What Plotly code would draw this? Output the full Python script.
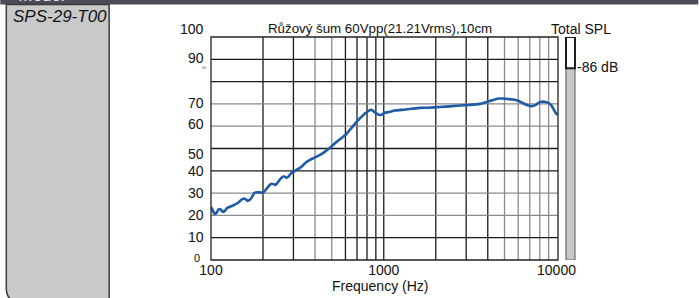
import plotly.graph_objects as go

# ---------------- data ----------------
freq_hz = [100, 102, 105, 108, 111, 114, 117, 120, 124, 128, 133, 138, 144, 150, 154, 159, 163, 168,
           173, 178, 185, 193, 200, 206, 212, 218, 224, 230, 236, 242, 250, 258, 266, 274, 282, 290,
           300, 312, 326, 340, 355, 372, 390, 410, 430, 455, 480, 505, 530, 555, 580, 610, 635, 660,
           690, 720, 750, 785, 820, 850, 880, 910, 945, 975, 1010, 1060, 1160, 1300, 1450, 1611, 1800,
           2100, 2500, 2800, 3100, 3600, 4000, 4300, 4600, 4900, 5200, 5600, 6000, 6400, 6800, 7200,
           7600, 8000, 8500, 9000, 9400, 9800, 10100]
spl_db = [23.8, 22.5, 20.6, 21.3, 22.8, 22.6, 21.6, 21.9, 23.3, 23.8, 24.3, 24.9, 25.8, 27.0, 27.6, 27.2,
          26.5, 27.0, 28.3, 30.0, 30.4, 30.3, 30.2, 31.2, 32.4, 33.5, 34.2, 34.0, 33.6, 34.5, 36.0, 37.2,
          37.4, 36.9, 37.6, 38.8, 39.5, 40.4, 41.2, 42.4, 43.8, 44.8, 45.6, 46.4, 47.2, 48.5, 49.9, 51.3,
          52.8, 54.0, 55.2, 56.6, 58.3, 59.8, 61.6, 63.2, 64.5, 65.9, 67.0, 67.4, 66.4, 65.6, 65.0, 65.2,
          66.0, 66.3, 67.0, 67.4, 67.8, 68.2, 68.3, 68.6, 69.0, 69.3, 69.5, 70.0, 71.0, 71.8, 72.4, 72.4,
          72.2, 72.0, 71.4, 70.3, 69.4, 69.0, 69.6, 70.8, 71.0, 70.4, 69.0, 66.5, 65.0]

x_tick_vals = [100, 1000, 10000]
x_tick_text = ["100", "1000", "10000"]
x_grid_vals = [200, 300, 400, 500, 600, 700, 800, 900, 1000, 2000, 3000, 4000, 5000, 6000, 7000, 8000, 9000]
x_grid_dark = [True, True, False, False, True, True, True, True, True, True, True, True, False, False, False, False, False]
y_grid_vals = [10, 20, 30, 40, 50, 60, 70, 80, 90]
y_grid_dark = [True, False, False, True, True, False, False, True, True]
y_label_vals = [100, 90, 70, 60, 50, 40, 30, 20, 10, 0]
y_label_text = ["100", "90", "70", "60", "50", "40", "30", "20", "10", "0"]
total_spl = 86

title_text = "Růžový šum 60Vpp(21.21Vrms),10cm"
model_name = "SPS-29-T00"

# ---------------- layout geometry (pixels) ----------------
W, H = 699, 298
L, R, T, B = 211, 558.5, 37, 260
PW, PH = R - L, B - T


def px(xp):
    return (xp - L) / PW


def py(yp):
    return (B - yp) / PH


FONT = "Liberation Sans, Arial, sans-serif"

fig = go.Figure()
fig.add_trace(go.Scatter(x=freq_hz, y=spl_db, mode="lines",
                         line=dict(color="#1f5ca6", width=2.6, shape="spline", smoothing=0.4),
                         hoverinfo="x+y", showlegend=False))

shapes = []
# grid lines
for v, dk in zip(x_grid_vals, x_grid_dark):
    shapes.append(dict(type="line", xref="x", yref="paper", x0=v, x1=v, y0=0, y1=1,
                       line=dict(color="#1a1a1a" if dk else "#8a8a8a", width=1.3), layer="below"))
for v, dk in zip(y_grid_vals, y_grid_dark):
    shapes.append(dict(type="line", xref="paper", yref="y", x0=0, x1=1, y0=v, y1=v,
                       line=dict(color="#1a1a1a" if dk else "#8a8a8a", width=1.3), layer="below"))
# plot border
shapes.append(dict(type="rect", xref="paper", yref="paper", x0=0, x1=1, y0=0, y1=1,
                   line=dict(color="#222222", width=1.3), layer="above"))

# total SPL bar
bx0, bx1 = px(566.5), px(575.5)
shapes.append(dict(type="rect", xref="paper", yref="y", x0=bx0, x1=bx1, y0=0, y1=total_spl,
                   fillcolor="#c8c8c8", line=dict(color="#6a6a6a", width=1.2)))
shapes.append(dict(type="rect", xref="paper", yref="y", x0=bx0, x1=bx1, y0=total_spl, y1=100,
                   fillcolor="white", line=dict(color="#1a1a1a", width=2)))

# header band
shapes.append(dict(type="rect", xref="paper", yref="paper", x0=px(0), x1=px(W), y0=py(0), y1=py(4.5),
                   fillcolor="#4c4b56", line=dict(width=0)))
# model box with rounded lower-left corner
bxl, bxr, byt, byb, rad = 6, 109, 4.5, 302, 14
path = (f"M {px(bxl)},{py(byt)} L {px(bxr)},{py(byt)} L {px(bxr)},{py(byb)} "
        f"L {px(bxl + rad)},{py(byb)} Q {px(bxl)},{py(byb)} {px(bxl)},{py(byb - rad)} Z")
shapes.append(dict(type="path", xref="paper", yref="paper", path=path,
                   fillcolor="#c9c9c9", line=dict(color="#3a3a3a", width=1.5)))

annotations = []
# y labels (custom positions)
y_centers = {100: 29, 90: 58, 70: 103, 60: 124, 50: 154, 40: 171, 30: 193, 20: 215, 10: 237, 0: 258}
for v, t in zip(y_label_vals, y_label_text):
    annotations.append(dict(x=px(206) if v != 0 else px(202), y=py(y_centers[v]), xref="paper", yref="paper",
                            text=t, showarrow=False, xanchor="right", yanchor="middle",
                            font=dict(family=FONT, size=14 if v != 0 else 11, color="#111")))
annotations.append(dict(x=px(204), y=py(68), xref="paper", yref="paper", text="80", showarrow=False,
                        xanchor="center", yanchor="middle", font=dict(family=FONT, size=4, color="#666")))
# title & labels
annotations.append(dict(x=px(380.5), y=py(29), xref="paper", yref="paper", text=title_text, showarrow=False,
                        xanchor="center", yanchor="middle", font=dict(family=FONT, size=13.3, color="#111")))
annotations.append(dict(x=px(581.5), y=py(29), xref="paper", yref="paper", text="Total SPL", showarrow=False,
                        xanchor="center", yanchor="middle", font=dict(family=FONT, size=14, color="#111")))
annotations.append(dict(x=px(575.5), y=py(67), xref="paper", yref="paper", text=f"-{total_spl} dB",
                        showarrow=False, xanchor="left", yanchor="middle",
                        font=dict(family=FONT, size=14, color="#111")))
annotations.append(dict(x=px(380), y=py(286), xref="paper", yref="paper", text="Frequency (Hz)", showarrow=False,
                        xanchor="center", yanchor="middle", font=dict(family=FONT, size=14, color="#111")))
annotations.append(dict(x=px(11), y=py(17), xref="paper", yref="paper", text=f"<i>{model_name}</i>",
                        showarrow=False, xanchor="left", yanchor="middle",
                        font=dict(family=FONT, size=17, color="#111")))
annotations.append(dict(x=px(17), y=py(-4), xref="paper", yref="paper", text="<i>Model</i>",
                        showarrow=False, xanchor="left", yanchor="middle",
                        font=dict(family=FONT, size=17, color="#eeeeee")))

fig.update_layout(
    width=W, height=H,
    margin=dict(l=L, r=W - R, t=T, b=H - B, pad=0),
    paper_bgcolor="white", plot_bgcolor="white",
    shapes=shapes, annotations=annotations,
    xaxis=dict(type="log", range=[2, 4.0086], tickvals=x_tick_vals, ticktext=x_tick_text,
               showgrid=False, zeroline=False, ticks="", showline=False,
               tickfont=dict(family=FONT, size=14, color="#111")),
    yaxis=dict(range=[0, 100], showgrid=False, zeroline=False, showticklabels=False, ticks="", showline=False),
    showlegend=False,
)

fig.write_html("out.html", config={"displayModeBar": False},
               post_script="document.body.style.margin='0';document.body.style.overflow='hidden';")
